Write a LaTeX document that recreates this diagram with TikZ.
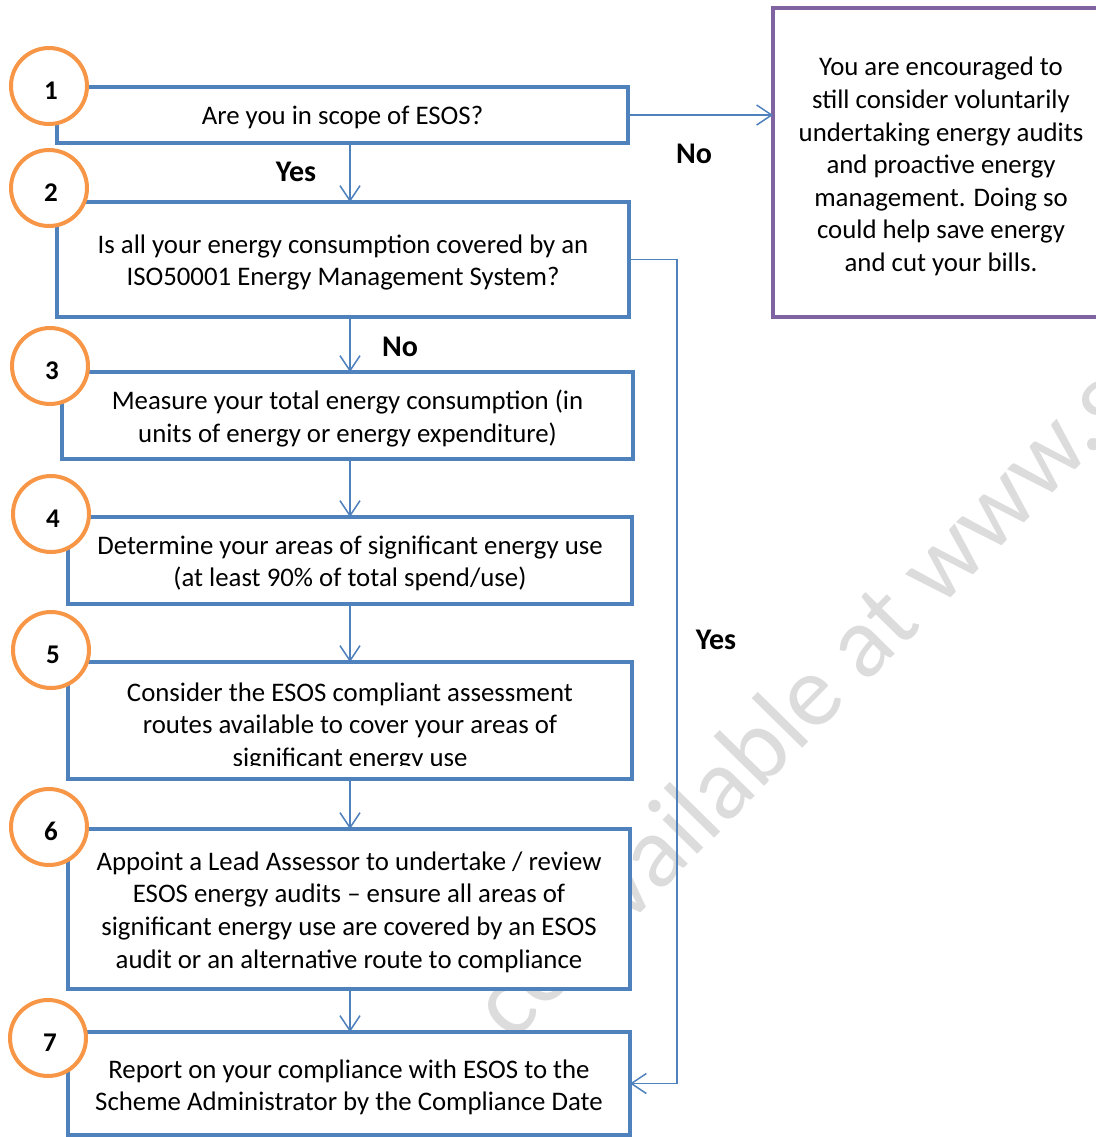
\documentclass[tikz,border=0pt]{standalone}
\usepackage{fontspec}
\setmainfont{Carlito}
\usetikzlibrary{arrows.meta,calc}
\definecolor{boxblue}{HTML}{4F81BD}
\definecolor{circorange}{HTML}{F79646}
\definecolor{purp}{HTML}{8064A2}
\definecolor{wmgray}{HTML}{DCDCDC}
\begin{document}
\begin{tikzpicture}[x=0.5pt,y=-0.5pt,
  stepbox/.style={draw=boxblue, line width=2.2pt, fill=white, rectangle, inner sep=0pt, outer sep=0pt},
  numcirc/.style={draw=circorange, line width=2pt, fill=white, circle, minimum size=38pt, inner sep=0pt},
  numtext/.style={font=\fontsize{13.5}{15}\selectfont\bfseries, inner sep=0pt},
  boxtext/.style={align=center, font=\fontsize{13.4}{16.3}\selectfont, inner sep=0pt},
  conn/.style={draw=boxblue, line width=0.75pt, -{Straight Barb[length=7.5pt,width=10pt]}},
  lbl/.style={font=\fontsize{15}{17}\selectfont\bfseries, inner sep=0pt},
  wmtext/.style={text=wmgray, font=\fontsize{51}{54}\selectfont, inner sep=0pt}]
\useasboundingbox (0,0) rectangle (1096,1137);

% watermark
\node[wmtext, rotate=45.5, anchor=base west] (wmk) at (512,1044) {ce available at www.g};

% boxes
\node[stepbox, minimum width=285.5pt, minimum height=28pt] (b1) at (342.5,115) {};
\node[boxtext] (t1) at ([yshift=-1pt]b1.center) {Are you in scope of ESOS?};
\node[stepbox, minimum width=286pt, minimum height=57.5pt] (b2) at (343,259.5) {};
\node[boxtext] (t2) at ([yshift=-1.5pt]b2.center) {Is all your energy consumption covered by an\\ISO50001 Energy Management System?};
\node[stepbox, minimum width=285.5pt, minimum height=43.5pt] (b3) at (347.5,415.5) {};
\node[boxtext] (t3) at ([yshift=-1.5pt]b3.center) {Measure your total energy consumption (in\\units of energy or energy expenditure)};
\node[stepbox, minimum width=282pt, minimum height=43.5pt] (b4) at (350,560.5) {};
\node[boxtext] (t4) at ([yshift=-1.5pt]b4.center) {Determine your areas of significant energy use\\(at least 90\% of total spend/use)};
\node[stepbox, minimum width=282pt, minimum height=58.5pt] (b5) at (350,720.5) {};
\begin{scope}
  \clip (b5.north west) rectangle ([yshift=7pt]b5.south east);
  \node[boxtext] (t5) at ([yshift=-3.2pt]b5.center) {Consider the ESOS compliant assessment\\routes available to cover your areas of\\significant energy use};
\end{scope}
\node[stepbox, minimum width=281pt, minimum height=80pt] (b6) at (349,909) {};
\node[boxtext] (t6) at ([yshift=-1.5pt]b6.center) {Appoint a Lead Assessor to undertake / review\\ESOS energy audits -- ensure all areas of\\significant energy use are covered by an ESOS\\audit or an alternative route to compliance};
\node[stepbox, minimum width=281pt, minimum height=51.5pt] (b7) at (349,1083.5) {};
\node[boxtext] (t7) at ([yshift=-2pt]b7.center) {Report on your compliance with ESOS to the\\Scheme Administrator by the Compliance Date};

% purple box
\node[draw=purp, line width=2pt, fill=white, rectangle, inner sep=0pt, outer sep=0pt, minimum width=168pt, minimum height=154.5pt] (pbox) at (941,162.5) {};
\node[boxtext] (pt) at ([yshift=-2pt]pbox.center) {You are encouraged to\\still consider voluntarily\\undertaking energy audits\\and proactive energy\\management. Doing so\\could help save energy\\and cut your bills.};

% connectors
\coordinate (yx) at (677,0);
\draw[conn] (b1.south -| b4.north) -- (b2.north -| b4.north);
\draw[conn] (b2.south -| b4.north) -- (b3.north -| b4.north);
\draw[conn] (b3.south -| b4.north) -- (b4.north);
\draw[conn] (b4.south) -- (b5.north);
\draw[conn] (b5.south) -- (b6.north -| b5.south);
\draw[conn] (b6.south -| b5.south) -- (b7.north -| b5.south);
\draw[conn] (b1.east) -- (b1.east -| pbox.west);
\draw[conn] (b2.east) -- (b2.east -| yx) -- (b7.east -| yx) -- (b7.east);

% circles
\node[numcirc] (c1) at (49,86) {};
\node[numcirc] (c2) at (49,188) {};
\node[numcirc] (c3) at (50,366) {};
\node[numcirc] (c4) at (51,514) {};
\node[numcirc] (c5) at (51,650) {};
\node[numcirc] (c6) at (49,827) {};
\node[numcirc] (c7) at (48,1038) {};
\node[numtext] (n1) at ([xshift=1pt,yshift=-2.2pt]c1.center) {1};
\node[numtext] (n2) at ([xshift=1pt,yshift=-2.2pt]c2.center) {2};
\node[numtext] (n3) at ([xshift=1pt,yshift=-2.2pt]c3.center) {3};
\node[numtext] (n4) at ([xshift=1pt,yshift=-2.2pt]c4.center) {4};
\node[numtext] (n5) at ([xshift=1pt,yshift=-2.2pt]c5.center) {5};
\node[numtext] (n6) at ([xshift=1pt,yshift=-2.2pt]c6.center) {6};
\node[numtext] (n7) at ([xshift=1pt,yshift=-2.2pt]c7.center) {7};

% labels
\node[lbl] (yes1) at (296,172) {Yes};
\node[lbl] (no1) at (694,154) {No};
\node[lbl] (no2) at (400,347) {No};
\node[lbl] (yes2) at (716,640) {Yes};
\end{tikzpicture}
\end{document}
